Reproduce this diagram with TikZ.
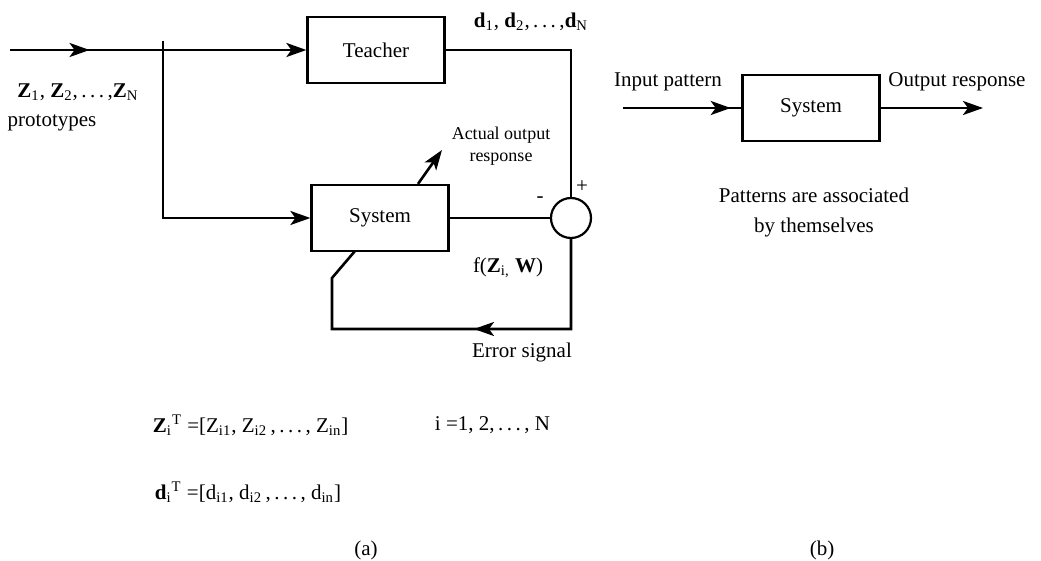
\documentclass[tikz,border=0pt]{standalone}
\usepackage{fontspec}
\setmainfont{Liberation Serif}
\usetikzlibrary{arrows.meta,calc,decorations.markings}
\newcommand{\spdots}{.\,.\,.}

\begin{document}
\begin{tikzpicture}[x=0.5pt,y=-0.5pt,line width=1.3pt,>={Stealth[length=10pt,width=7pt,inset=2.5pt]},
  block/.style={draw,line width=1.1pt,minimum width=68.5pt,minimum height=33pt,inner sep=0pt},
  sumnode/.style={draw,line width=1.1pt,circle,minimum size=20pt,inner sep=0pt},
  lbl/.style={font=\fontsize{10.5}{15}\selectfont},
  small/.style={font=\fontsize{9}{11}\selectfont},
  midarrow/.style={postaction={decorate},decoration={markings,mark=at position #1 with {\arrow{>}}}}]
  \useasboundingbox (0,0) rectangle (1041,561);
  % (a) supervised learning
  \node[block,lbl] (teacher) at (376,50) {Teacher};
  \node[block,lbl] (sysa) at (380,218) {System};
  \node[sumnode] (sum) at (571,218) {};
  \coordinate (in) at (10,50);
  \coordinate (split) at (163,50);
  \coordinate (tick) at (163,41);
  \draw[midarrow=0.52] (in) -- (split);
  \draw[->] (split) -- (teacher.west);
  \draw[->] (tick) -- (tick |- sysa.west) -- (sysa.west);
  \draw (teacher.east) -- (sum |- teacher.east) -- (sum.north);
  \draw (sysa.east) -- (sum.west);
  \coordinate (fbr) at (571,329);
  \coordinate (fbl) at (332,329);
  \coordinate (fbk) at (332,278);
  \coordinate (fbt) at (355,251);
  \draw[midarrow=0.45,line join=miter] (sum.south) -- (fbr) -- (fbl) -- (fbk) -- (fbt);
  \coordinate (aout) at (442,150);
  \draw[->] ($(sysa.north)+(38,0)$) -- (aout);
  \node[lbl] (zlist) at (78,92) {\textbf{Z}\textsubscript{1}, \textbf{Z}\textsubscript{2},\,\spdots\,,\textbf{Z}\textsubscript{N}};
  \node[lbl] (proto) at (52,123) {prototypes};
  \node[lbl] (dlist) at (531,22) {\textbf{d}\textsubscript{1}, \textbf{d}\textsubscript{2},\,\spdots\,,\textbf{d}\textsubscript{N}};
  \node[small,align=center] (actual) at (501,146) {Actual output\\response};
  \node[lbl] (minus) at (540,200) {-};
  \node[lbl] (plus) at (582,187) {+};
  \node[lbl] (fz) at (508,268) {f(\textbf{Z}\textsubscript{i,} \textbf{W})};
  \node[lbl] (err) at (522,352) {Error signal};
  \node[lbl,anchor=west] (zt) at (145,425) {\textbf{Z}\textsubscript{i}\textsuperscript{T} =[Z\textsubscript{i1}, Z\textsubscript{i2}\,,\,\spdots\,, Z\textsubscript{in}]};
  \node[lbl,anchor=west] (irange) at (427,425) {i =1, 2,\,\spdots\,, N};
  \node[lbl,anchor=west] (dt) at (147,492) {\textbf{d}\textsubscript{i}\textsuperscript{T} =[d\textsubscript{i1}, d\textsubscript{i2}\,,\,\spdots\,, d\textsubscript{in}]};
  \node[lbl] (capa) at (366,550) {(a)};
  % (b) autoassociation
  \node[block,lbl] (sysb) at (811,108) {System};
  \coordinate (inb) at (623,108);
  \coordinate (outb) at (983,108);
  \draw[midarrow=0.91] (inb) -- (sysb.west);
  \draw[->] (sysb.east) -- (outb);
  \node[lbl] (inlbl) at (668,82) {Input pattern};
  \node[lbl] (outlbl) at (957,82) {Output response};
  \node[lbl,align=center] (note) at (814,212) {Patterns are associated\\by themselves};
  \node[lbl] (capb) at (822,550) {(b)};
\end{tikzpicture}
\end{document}
